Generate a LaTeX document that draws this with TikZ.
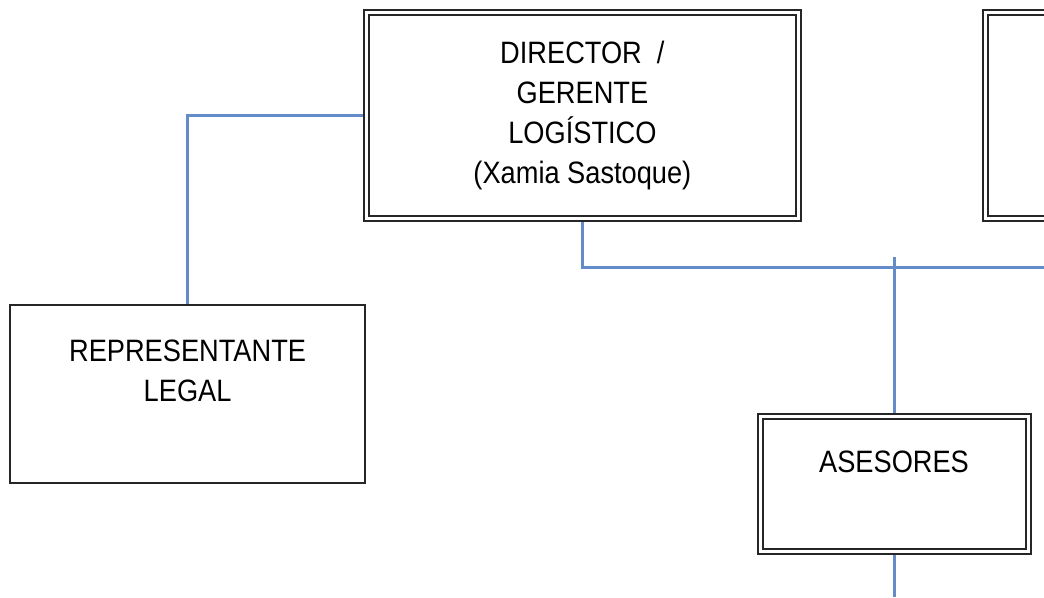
\documentclass[tikz,border=0pt]{standalone}
\usepackage{fontspec}
\setmainfont{Liberation Sans}[FakeStretch=0.88]
\usepackage{tikz}
\usetikzlibrary{positioning}

\definecolor{linkblue}{RGB}{100,140,200}

\begin{document}
\begin{tikzpicture}[
    box/.style={draw=black!85, line width=0.05cm, fill=white, inner sep=0pt, outer sep=0.025cm},
    dbox/.style={box, double, double distance=0.075cm, outer sep=0.0875cm},
    txt/.style={inner sep=0pt, align=center, font=\fontsize{22}{28.45}\selectfont},
    link/.style={draw=linkblue, line width=0.075cm}
]

    % Page frame
    \clip (0, 0) rectangle (26.1, -14.925);

    % Boxes
    \node[dbox, txt, minimum width=10.79cm, minimum height=5.16cm] (dir) at (14.56, -2.89)
        {DIRECTOR \ /\\GERENTE\\LOGÍSTICO\\(Xamia Sastoque)};
    \node[dbox, minimum width=10.79cm, minimum height=5.16cm] (next) at (30.03, -2.89) {};
    \node[box, minimum width=8.875cm, minimum height=4.45cm] (rep) at (4.69, -9.85) {};
    \node[dbox, minimum width=6.7cm, minimum height=3.375cm] (ase) at (22.35, -12.09) {};

    % Texts of the boxes
    \node[txt, below=0.9cm of rep.north] (reptxt) {REPRESENTANTE\\LEGAL};
    \node[txt, below=0.95cm of ase.north] (asetxt) {ASESORES};

    % Free ends
    \coordinate (busend) at (26.1, -6.675);
    \coordinate (tap) at (22.35, -6.425);
    \coordinate (down) at (22.35, -14.925);

    % Connectors
    \draw[link] (dir.west) -| (rep.north);
    \draw[link] (dir.south) |- (busend);
    \draw[link] (tap) -- (ase.north);
    \draw[link] (ase.south) -- (down);

\end{tikzpicture}
\end{document}
